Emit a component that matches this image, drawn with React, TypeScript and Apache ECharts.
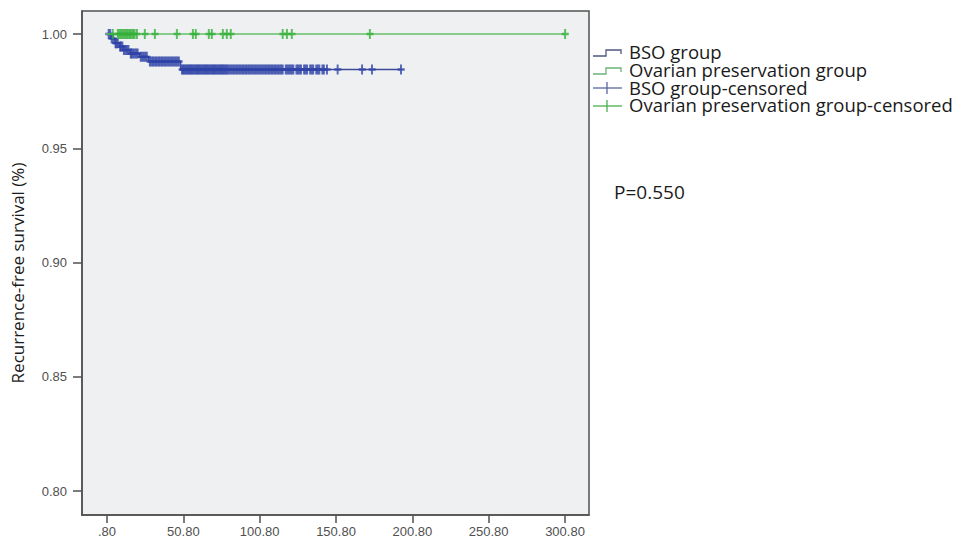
import React, { useEffect, useRef } from "react";
import * as echarts from "echarts";

// ---- data ----
const xTicks = [0.8, 50.8, 100.8, 150.8, 200.8, 250.8, 300.8];
const yTicks = [0.8, 0.85, 0.9, 0.95, 1.0];

// Kaplan-Meier steps [time, survival after event]
const bsoCurve: [number, number][] = [
  [0, 1.0], [3.5, 0.998], [6, 0.996], [9, 0.9945], [11.5, 0.993],
  [16, 0.9915], [22, 0.99], [28, 0.988], [49, 0.9845], [194, 0.9845],
];
const opCurve: [number, number][] = [
  [0, 1.0], [301, 1.0],
];

// censored times
const bsoCensored = [
  2, 3, 4, 5, 6.5, 7, 8, 9.5, 10, 11, 12, 13, 14, 15, 16.5, 17, 18, 19, 20, 21, 23, 24, 25, 26,
  27, 29, 30, 31, 32, 33, 34, 35, 36, 37, 38, 39, 40, 41, 42, 43, 44, 45, 46, 47, 48,
  50, 50.8, 51.5, 52.3, 53, 53.8, 54.5, 55.3, 56, 56.8, 57.5, 58.3, 59, 59.8, 60.5, 61.3, 62,
  62.8, 63.5, 64.3, 65, 65.8, 66.5, 67.3, 68, 68.8, 69.5, 70.3, 71, 71.8, 72.5, 73.3, 74, 74.8,
  75.5, 76.3, 77, 77.8, 78.5, 79.3, 80, 81, 82, 83, 84, 85, 86, 87, 88, 89, 90, 91, 92, 93,
  94, 95, 96, 97, 98, 99, 100, 101, 102, 103, 104, 105, 106, 107, 108, 109, 110, 111, 112, 113,
  114, 115, 116, 118, 119, 120, 121, 122, 123, 125, 126, 127, 128, 130, 131, 132, 134, 135,
  136, 138, 139, 140, 142, 143, 145, 152, 168, 174.5, 193.5,
];
const opCensored = [
  4.7, 8, 9, 10, 11, 12, 13, 14, 15, 16, 17, 18, 19, 20.5, 25.7, 32.3, 46.7, 57.2, 59.1, 67.6,
  69.6, 76.8, 79.4, 82, 116, 118.8, 122, 173.1, 301,
];

const legendLabels = [
  "BSO group",
  "Ovarian preservation group",
  "BSO group-censored",
  "Ovarian preservation group-censored",
];
const pValueText = "P=0.550";
const yTitle = "Recurrence-free survival (%)";

const BLUE_LINE = "#3d4a9a";
const BLUE_MARK = "#2f43a8";
const GREEN_LINE = "#66c06a";
const GREEN_MARK = "#35b03a";

function levelAt(curve: [number, number][], t: number): number {
  let s = curve[0][1];
  for (const [x, y] of curve) {
    if (x <= t) s = y;
  }
  return s;
}

const PLUS = "path://M3,0H5.5V3.8H9V6.2H5.5V10H3V6.2H0V3.8H3Z";

export default function App() {
  const ref = useRef<HTMLDivElement>(null);
  useEffect(() => {
    if (!ref.current) return;
    const chart = echarts.init(ref.current, undefined, { renderer: "svg" });
    const txt = "Open Sans";
    const axisFont = "Liberation Sans";
    chart.setOption({
      animation: false,
      backgroundColor: "#ffffff",
      grid: {
        left: 82,
        top: 11,
        right: 971 - 589,
        bottom: 541 - 515,
        show: true,
        backgroundColor: "#eef0f1",
        borderColor: "#505050",
        borderWidth: 1.5,
      },
      xAxis: {
        type: "value",
        min: -15.58,
        max: 316.52,
        splitLine: { show: false },
        axisLine: { show: true, onZero: false, lineStyle: { color: "#505050", width: 1.5 } },
        axisTick: {
          show: true,
          customValues: xTicks,
          length: 8,
          lineStyle: { color: "#505050", width: 1.5 },
        },
        axisLabel: {
          customValues: xTicks,
          formatter: (v: number) => v.toFixed(2).replace(/^0\./, "."),
          color: "#505050",
          fontFamily: axisFont,
          fontSize: 13,
          margin: 10,
        },
      },
      yAxis: {
        type: "value",
        min: 0.7895,
        max: 1.01007,
        splitLine: { show: false },
        axisLine: { show: true, onZero: false, lineStyle: { color: "#505050", width: 1.5 } },
        axisTick: {
          show: true,
          customValues: yTicks,
          length: 9,
          lineStyle: { color: "#505050", width: 1.5 },
        },
        axisLabel: {
          customValues: yTicks,
          formatter: (v: number) => v.toFixed(2),
          color: "#505050",
          fontFamily: axisFont,
          fontSize: 13,
          margin: 15,
        },
      },
      series: [
        {
          type: "line",
          name: legendLabels[0],
          step: "end",
          data: bsoCurve,
          showSymbol: false,
          lineStyle: { color: BLUE_LINE, width: 1.5 },
          z: 2,
        },
        {
          type: "scatter",
          name: legendLabels[2],
          data: bsoCensored.map((t) => [t, levelAt(bsoCurve, t)]),
          symbol: PLUS,
          symbolSize: [7, 10],
          itemStyle: { color: BLUE_MARK },
          z: 3,
        },
        {
          type: "line",
          name: legendLabels[1],
          step: "end",
          data: opCurve,
          showSymbol: false,
          lineStyle: { color: GREEN_LINE, width: 1.5 },
          z: 4,
        },
        {
          type: "scatter",
          name: legendLabels[3],
          data: opCensored.map((t) => [t, levelAt(opCurve, t)]),
          symbol: PLUS,
          symbolSize: [7, 10],
          itemStyle: { color: GREEN_MARK },
          z: 5,
        },
      ],
      graphic: [
        {
          type: "text",
          x: 17,
          y: 273,
          rotation: Math.PI / 2,
          style: {
            text: yTitle,
            fontFamily: txt,
            fontSize: 17,
            fill: "#1a1a1a",
            align: "center",
            verticalAlign: "middle",
          },
        },
        {
          type: "text",
          x: 614,
          y: 192,
          style: {
            text: pValueText,
            fontFamily: txt,
            fontSize: 19,
            fill: "#1a1a1a",
            align: "left",
            verticalAlign: "middle",
          },
        },
        // legend icons
        {
          type: "polyline",
          shape: { points: [[593, 56], [606, 56], [606, 50], [621, 50], [621, 54]] },
          style: { stroke: "#4f5880", lineWidth: 1.3, fill: "none" },
        },
        {
          type: "polyline",
          shape: { points: [[593, 74], [606, 74], [606, 68], [621, 68], [621, 72]] },
          style: { stroke: "#6ab47a", lineWidth: 1.3, fill: "none" },
        },
        {
          type: "line",
          shape: { x1: 593, y1: 88, x2: 622, y2: 88 },
          style: { stroke: "#5a66a0", lineWidth: 1.3 },
        },
        {
          type: "line",
          shape: { x1: 607, y1: 82, x2: 607, y2: 94 },
          style: { stroke: "#5a66a0", lineWidth: 1.3 },
        },
        {
          type: "line",
          shape: { x1: 593, y1: 106, x2: 622, y2: 106 },
          style: { stroke: "#4cb050", lineWidth: 1.3 },
        },
        {
          type: "line",
          shape: { x1: 607, y1: 100, x2: 607, y2: 112 },
          style: { stroke: "#4cb050", lineWidth: 1.3 },
        },
        {
          type: "text",
          x: 629,
          y: 43,
          style: {
            text: legendLabels.join("\n"),
            fontFamily: txt,
            fontSize: 18.5,
            lineHeight: 17.7,
            fill: "#1a1a1a",
            align: "left",
            verticalAlign: "top",
          },
        },
      ],
    });
    return () => chart.dispose();
  }, []);
  return <div ref={ref} style={{ width: 971, height: 541, position: "absolute", left: 0, top: 0 }} />;
}
